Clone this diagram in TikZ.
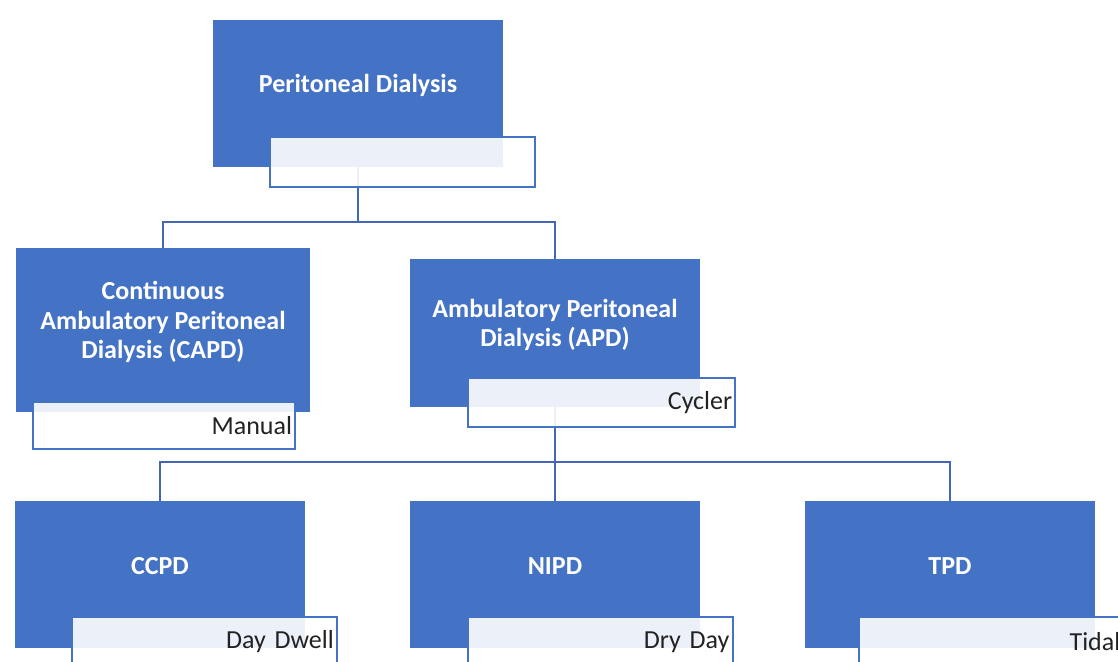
\documentclass[tikz,border=0pt]{standalone}
\usepackage{fontspec}
\setmainfont{Carlito}
\usepackage{tikz}
\usetikzlibrary{positioning,calc}
\definecolor{pdblue}{HTML}{4472C4}
\definecolor{pdline}{HTML}{4466B4}
\definecolor{pdtext}{HTML}{222222}
\tikzset{
  unit/.style = {rectangle, fill=pdblue, minimum width=217.5pt,
                 minimum height=110.25pt, inner sep=0pt},
  unittext/.style = {label={[text=white,font=\fontsize{19.5}{22}\selectfont\bfseries,
                     align=center,yshift=6pt]center:{#1}}},
  tag/.style  = {rectangle, draw=pdblue, line width=1.5pt, fill=white,
                 fill opacity=0.9, text opacity=1, text=pdtext,
                 minimum width=198.75pt, minimum height=37.5pt,
                 text width=194pt, align=right, inner xsep=2pt},
  link/.style = {draw=pdline, line width=1.5pt},
}

\begin{document}
\begin{tikzpicture}[x=0.75pt,y=-0.75pt,font=\fontsize{19.5}{22}\selectfont]
\useasboundingbox (0,0) rectangle (1118,661);
\clip (0,0) rectangle (1118,661);
% blue boxes
\node[unit,unittext={Peritoneal Dialysis}] (pd) at (358,93.5) {};
\node[unit,minimum width=220.5pt,minimum height=123pt,
  unittext={Continuous\\Ambulatory Peritoneal\\Dialysis (CAPD)}] (capd) at (163,330) {};
\node[unit,minimum height=111pt,
  unittext={Ambulatory Peritoneal\\Dialysis (APD)}] (apd) at (555,333) {};
\foreach \x/\nm/\lab in {160/ccpd/CCPD, 555/nipd/NIPD, 950/tpd/TPD}{
  \node[unit,unittext=\lab] (\nm) at (\x,574.5) {};}
% connectors
\draw[link] (pd.south) -- ++(0,55) -| (capd.north);
\draw[link] (pd.south) ++(0,55) -| (apd.north);
\draw[link] (apd.south) -- ++(0,55) -| (ccpd.north);
\draw[link] (apd.south) ++(0,55) -| (nipd.north);
\draw[link] (apd.south) ++(0,55) -| (tpd.north);
% label boxes
\node[tag] (pdtag) at (402.5,161.5) {};
\node[tag,minimum width=196.5pt,text width=192pt,minimum height=35.25pt] (capdtag) at (164,425.5) {Manual};
\node[tag,minimum width=200.25pt,text width=196pt,minimum height=36.75pt] (apdtag) at (601.5,402.5) {Cycler};
\node[tag] (ccpdtag) at (204.5,642) {Day Dwell};
\node[tag] (nipdtag) at (600,642) {Dry Day};
\node[tag] (tpdtag) at (991,642) {Tidal};
\end{tikzpicture}
\end{document}
